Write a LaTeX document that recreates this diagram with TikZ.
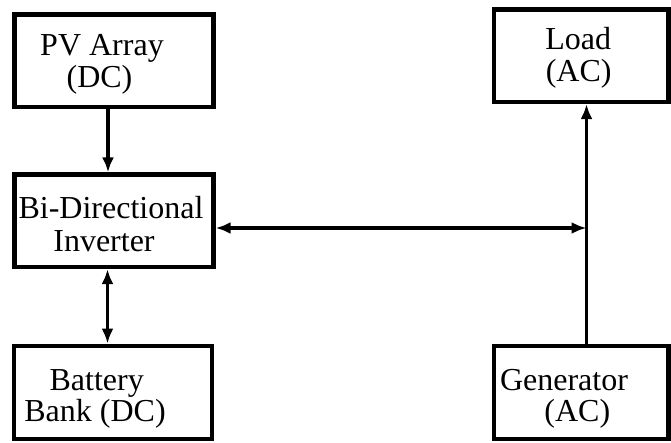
\documentclass[tikz,border=0pt]{standalone}
\usepackage{fontspec}
\setmainfont{Liberation Serif}
\usetikzlibrary{arrows.meta}
\begin{document}
\begin{tikzpicture}[x=1pt,y=-1pt,
  blockbox/.style={draw=black,line width=4.3pt,rectangle,inner sep=0pt,fill=none},
  txt/.style={anchor=base,inner sep=0pt,font=\fontsize{32}{33}\selectfont},
  conn/.style={line width=3.8pt,{Latex[length=15pt,width=12pt]}-{Latex[length=15pt,width=12pt]}},
  connone/.style={line width=3.8pt,-{Latex[length=15pt,width=12pt]}}]
\useasboundingbox (0,0) rectangle (671,443);
% boxes
\node[blockbox,minimum width=199pt,minimum height=92.5pt] (pv) at (114,60.75) {};
\node[blockbox,minimum width=199pt,minimum height=92.5pt] (inv) at (114,220.75) {};
\node[blockbox,minimum width=198pt,minimum height=93pt] (bat) at (113,392.2) {};
\node[blockbox,minimum width=174.5pt,minimum height=92.5pt] (load) at (581.25,55.75) {};
\node[blockbox,minimum width=174.5pt,minimum height=93pt] (gen) at (581.25,392.2) {};
% texts
\node[txt] (pv1) at (102,55.5) {PV Array};
\node[txt] (pv2) at (99.5,88) {(DC)};
\node[txt] (inv1) at (111,219) {Bi-Directional};
\node[txt] (inv2) at (104,251.5) {Inverter};
\node[txt] (bat1) at (96.7,390) {Battery};
\node[txt] (bat2) at (95,421) {Bank (DC)};
\node[txt] (load1) at (578.2,49.3) {Load};
\node[txt] (load2) at (578.7,81.3) {(AC)};
\node[txt] (gen1) at (564,390) {Generator};
\node[txt] (gen2) at (577.3,421) {(AC)};
% connector helpers
\coordinate (a) at (108,0);
\coordinate (b) at (107.5,0);
\coordinate (j) at (586.5,228);
% connectors
\draw[connone] (pv.south -| a) -- (inv.north -| a);
\draw[conn] (inv.south -| b) -- (bat.north -| b);
\draw[conn] (inv.east |- j) -- (j);
\draw[connone] (gen.north -| j) -- (load.south -| j);
\end{tikzpicture}
\end{document}
